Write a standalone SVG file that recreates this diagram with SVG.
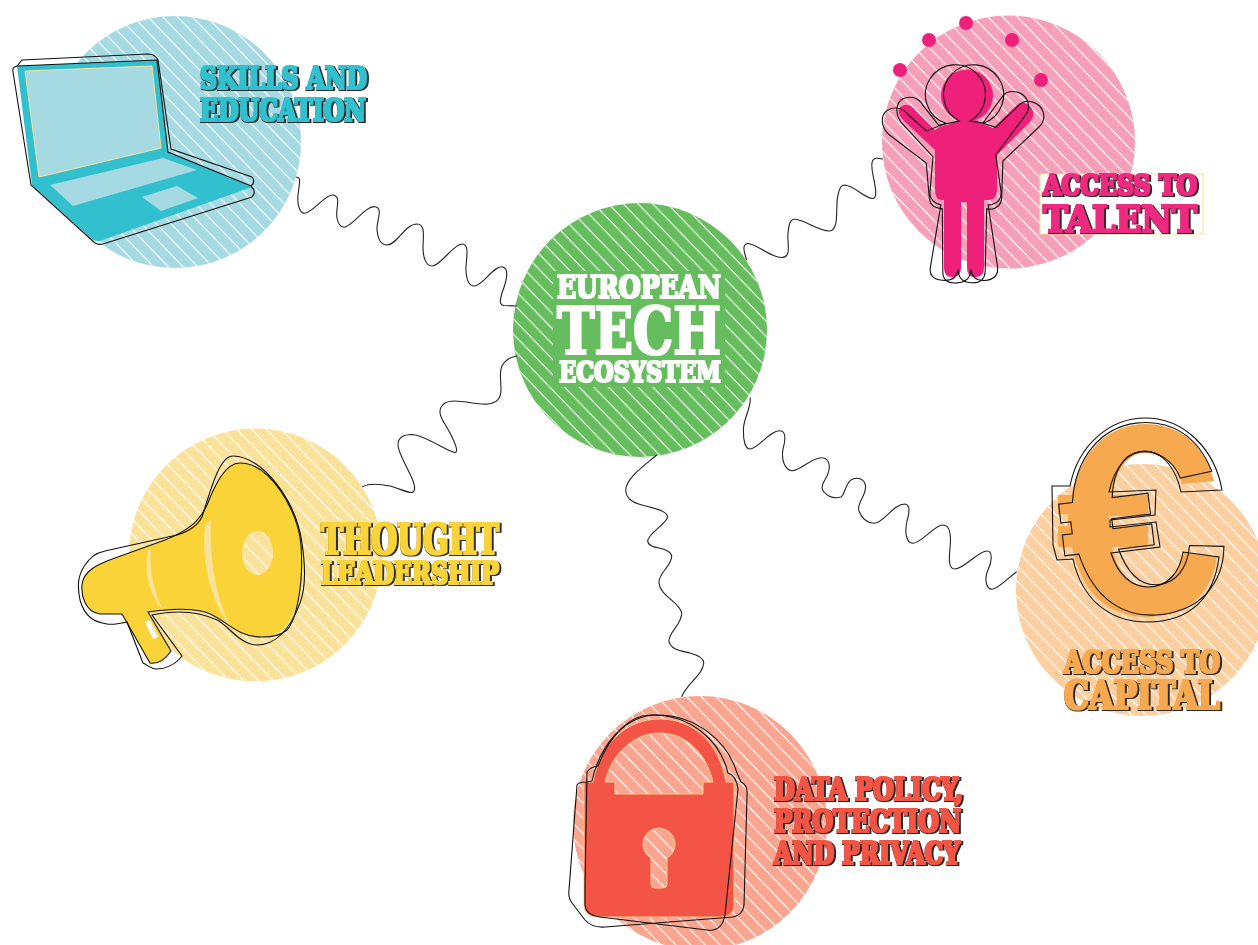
<svg xmlns="http://www.w3.org/2000/svg" width="1258" height="945" viewBox="0 0 1258 945">
<style>
text{font-family:"DejaVu Serif Condensed","DejaVu Serif","Liberation Serif",serif;font-weight:700}
.t{filter:url(#fat)}
.w{fill:#fff;filter:url(#fatw)}
.o{fill:none;stroke:#111;stroke-width:1.1}
.h{fill:url(#stripes)}
.teal{fill:#32c0cf}.pink{fill:#ef2079}.yel{fill:#f9d338}.ora{fill:#f7a950}.red{fill:#f35445}
</style>
<defs>
<pattern id="stripes" width="11" height="10.6" patternUnits="userSpaceOnUse" patternTransform="rotate(46)">
<rect width="11" height="1.2" fill="#fff" fill-opacity=".9"/>
</pattern>
<filter id="fat" x="-5%" y="-15%" width="110%" height="130%">
<feMorphology in="SourceAlpha" operator="dilate" radius="1.7 1.3" result="a"/>
<feOffset in="a" dx=".5" dy=".6" result="b"/>
<feFlood flood-color="#2a2a2a"/>
<feComposite in2="b" operator="in" result="dark"/>
<feMorphology in="SourceGraphic" operator="dilate" radius=".8 .5" result="fill"/>
<feMerge><feMergeNode in="dark"/><feMergeNode in="fill"/></feMerge>
</filter>
<filter id="fatw" x="-5%" y="-15%" width="110%" height="130%">
<feMorphology in="SourceGraphic" operator="dilate" radius="1 .7"/>
</filter>
<path id="person" d="M958,120A26,26 0 1 1 976,120L985,125L993,128L1017,105C1022,100 1032,104 1033,112C1034,116 1032,119 1030,122L997,155L997,190Q997,200 988,200L984,200L984,268Q984,277 975,277Q967,277 967,268L967,202L961,202L961,268Q961,277 952,277Q944,277 944,268L944,200L942,200Q935,200 935,190L935,150L903,120C897,113 898,108 902,106C908,103 912,106 916,111L935,130Q942,125 948,125Z"/>
<path id="personO" d="M953,122A30,30 0 1 1 977,122L990,125L1012,100C1018,93 1032,96 1036,106C1038,112 1036,118 1032,122L1000,158L1002,195Q1002,205 992,207L988,207L992,270Q992,282 978,282Q966,282 965,270Q964,282 950,282Q936,282 937,270L942,207Q930,205 930,195L930,160L895,128C888,120 888,108 896,104C905,100 912,104 916,110L933,128Z"/>
<path id="euro" d="M1214,481L1182,484C1177,465 1162,453 1145,453C1128,453 1116,470 1112,495L1148,495L1148,516L1109,516L1109,526L1148,526L1148,547L1112,547C1118,572 1130,587 1148,587C1165,587 1178,575 1183,552L1217,557C1212,595 1185,617 1147,617C1110,617 1082,595 1072,547L1058,547L1058,526L1068,526L1068,514L1058,514L1058,495L1072,495C1080,450 1110,424 1145,424C1180,424 1205,445 1214,481Z"/>
</defs>

<g id="skills">
<circle cx="175" cy="142" r="126" fill="#a5dae3"/><circle class="h" cx="175" cy="142" r="126"/>
<path class="teal" d="M17,66L157,60L168,152L252,187L100,241Q95,241 93,240L32,185Z"/>
<path fill="#a5dae3" stroke="#fbe29b" d="M25,71L152,66L161,148L39,177Z"/>
<path fill="#a5dae3" d="M50,185L163,158L197,170L73,206Z"/>
<path fill="#a5dae3" d="M142,197L177,186L198,198L161,211Z"/>
<path class="o" d="M17,66L22,60L148,54Q155,54 158,60L171,149L252,177Q256,182 251,186"/>
<path class="o" d="M17,66Q12,67 13,72L31,185L95,243Q98,245 103,244L252,197Q257,192 251,186L168,152L157,60L17,66Z"/>
<text class="t teal" x="200" y="89" font-size="31" textLength="167" lengthAdjust="spacingAndGlyphs">SKILLS AND</text>
<text class="t teal" x="200" y="121" font-size="32" textLength="166" lengthAdjust="spacingAndGlyphs">EDUCATION</text>
</g>

<g id="talent">
<circle cx="1008.5" cy="142" r="126.5" fill="#f5a0b8"/><circle class="h" cx="1008.5" cy="142" r="126.5"/>
<circle class="pink" cx="900" cy="70" r="7"/><circle class="pink" cx="929" cy="40" r="7"/><circle class="pink" cx="966" cy="23" r="7"/><circle class="pink" cx="1012" cy="40" r="7"/><circle class="pink" cx="1041" cy="80" r="7"/>
<use href="#person" class="pink"/>
<use href="#personO" class="o" transform="translate(-3,0) rotate(-5 965 170)"/>
<use href="#personO" class="o" transform="translate(2,0) rotate(5 965 170)"/>
<rect x="1040" y="174" width="163" height="60" fill="#fff" stroke="#fbe29b"/>
<text class="t" fill="#ee2c80" x="1043" y="195" font-size="28" textLength="154" lengthAdjust="spacingAndGlyphs">ACCESS TO</text>
<text class="t" fill="#ee2c80" x="1043" y="232" font-size="37" textLength="154" lengthAdjust="spacingAndGlyphs">TALENT</text>
</g>

<g id="center">
<circle cx="640" cy="330" r="127" fill="#66bd5e"/><circle class="h" cx="640" cy="330" r="127"/>
<rect x="553" y="271" width="172" height="116" fill="#66bd5e"/>
<text class="w" x="557" y="298" font-size="31" textLength="164" lengthAdjust="spacingAndGlyphs">EUROPEAN</text>
<text class="w" x="557" y="354" font-size="65" textLength="164" lengthAdjust="spacingAndGlyphs">TECH</text>
<text class="w" x="559" y="382" font-size="27" textLength="162" lengthAdjust="spacingAndGlyphs">ECOSYSTEM</text>
</g>

<g id="thought">
<circle cx="255.5" cy="555" r="126.5" fill="#fbe29b"/><circle class="h" cx="255.5" cy="555" r="126.5"/>
<path class="yel" fill-rule="evenodd" d="M240,463C275,463 302,510 302,560C302,605 290,637 262,637C235,637 225,618 205,612C185,607 165,610 148,612L171,651C165,660 157,664 150,663L122,614L100,614C85,612 81,595 82,585C83,572 95,565 115,558L165,540C190,530 200,520 207,505C215,485 225,463 240,463ZM242,553A15.5,22 0 1 0 273,553A15.5,22 0 1 0 242,553Z"/>
<path fill="#fbe29b" d="M205,525C201,565 212,605 233,630C218,605 209,565 211,520Z"/>
<path fill="#fbe29b" d="M148,550C144,575 150,595 163,610C154,592 149,570 151,549Z"/>
<path fill="#fff" d="M145,622L150,620L158,637L153,639Z"/>
<path class="o" d="M233,456C262,456 296,500 302,543C306,570 305,590 300,603C290,630 275,645 257,645C240,645 228,625 217,620C200,612 180,609 152,615L182,656C175,665 165,669 157,669C150,669 148,665 143,663L127,622C118,624 112,625 107,624C95,622 85,618 80,600C77,585 78,575 85,565C90,558 95,553 105,551L177,535C190,531 198,525 202,517C212,485 220,456 233,456Z"/>
<path class="o" d="M240,463C270,463 298,510 301,545C304,585 296,620 287,630C280,636 270,637 262,637C235,637 225,618 205,612C185,607 165,610 148,612L171,651C165,660 157,664 150,663L122,614L100,614C85,612 81,595 82,585C83,572 95,565 115,558L165,540C190,530 200,520 207,505C215,485 225,463 240,463Z"/>
<text class="t yel" x="321" y="554" font-size="43" textLength="178" lengthAdjust="spacingAndGlyphs">THOUGHT</text>
<text class="t yel" x="321" y="584" font-size="31" textLength="178" lengthAdjust="spacingAndGlyphs">LEADERSHIP</text>
</g>

<g id="capital">
<circle cx="1142" cy="590" r="126" fill="#fbcf9f"/><circle class="h" cx="1142" cy="590" r="126"/>
<use href="#euro" class="ora"/>
<use href="#euro" class="o" transform="translate(3,-1) rotate(-7 1140 520)"/>
<path class="o" d="M1222,490L1181,492C1176,468 1162,451 1145,451C1128,451 1114,468 1109,492L1156,490L1155,515L1110,520L1110,527L1156,522L1160,547L1111,553C1118,575 1132,587 1148,587C1168,587 1180,572 1183,552L1219,557C1214,598 1190,622 1147,622C1110,622 1082,600 1073,559L1057,560L1053,545L1052,486L1070,486C1078,445 1110,418 1145,418C1185,418 1215,450 1222,490Z"/>
<text class="t ora" x="1064" y="673" font-size="31" textLength="156" lengthAdjust="spacingAndGlyphs">ACCESS TO</text>
<text class="t ora" x="1064" y="709" font-size="40" textLength="156" lengthAdjust="spacingAndGlyphs">CAPITAL</text>
</g>

<g id="data">
<circle cx="700" cy="823" r="127" fill="#f9a58f"/><circle class="h" cx="700" cy="823" r="127"/>
<path class="red" fill-rule="evenodd" stroke="#fbd08a" d="M584,782L593,782C600,745 625,719 660,719C695,719 720,745 726,782L734,782L734,905Q734,917 720,917L598,917Q584,917 584,905ZM605,782C612,752 635,733 660,733C685,733 706,752 713,782L703,782L703,794L615,794L615,782ZM651,858A16,16 0 1 1 667,858L667,884Q667,888 663,888L655,888Q651,888 651,884Z"/>
<path class="o" d="M577,785Q578,782 587,782L592,781C600,745 625,715 657,715C695,715 727,740 737,773Q739,778 741,782Q748,785 747,795L744,905Q743,915 733,917L605,927Q592,928 585,920L572,903Q568,898 569,890Z"/>
<path class="o" d="M587,772Q590,767 598,766C610,735 630,715 650,715C690,714 720,740 728,773Q736,775 738,789L725,915Q722,932 707,930L600,917Q586,915 585,905L585,885L587,772Z"/>
<text class="t red" x="774" y="800" font-size="31" textLength="189" lengthAdjust="spacingAndGlyphs">DATA POLICY,</text>
<text class="t red" x="774" y="832" font-size="31" textLength="187" lengthAdjust="spacingAndGlyphs">PROTECTION</text>
<text class="t red" x="774" y="864" font-size="31" textLength="186" lengthAdjust="spacingAndGlyphs">AND PRIVACY</text>
</g>

<g id="connectors" fill="none" stroke="#222" stroke-width="1.1">
<path d="M296,177.3C302,176 299,185 298,195C297,205 300,213 304,213.3C312,214 325,194 333,195C342,196 335,210 337,218C338,224 341,227 344,227.3C352,227 366,205 375,206.7C384,208 376,222 377,230C378,240 382,245 387,245C397,245 405,224 417,224C426,224 423,238 423,247C423,258 426,266 432,266C441,266 453,244 462,244C471,244 465,262 466,272C467,282 470,286 474,286C483,286 493,266 502,266.7C511,268 505,285 502,293C500,300 499,305 504,305.5L517,306"/>
<path d="M746.7,260C744,252 742,245 747,243.5C755,242 770,258 782,257.5C792,257 787,243 788,233C789,224 790,219 795,219.3C805,220 820,232 830,231C840,229 835,205 838,195C840,187 841,185 845,185C855,186 865,199 873,198.5C878,198 875,185 873,175C871,165 871,158 877,158.3L883,159"/>
<path d="M362.3,486.7C370,483 380,484 390,486C398,488 408,493 412,492.5C417,491 414,482 410,474C405,463 398,452 398,445C398,437 405,434.5 412,434.5C425,435 448,452 455,452.5C459,452 455,443 450,433C445,423 439,417 440,411C441,403 447,401 455,401C465,401 478,405 488,404C497,403 501,398 501,390C501,380 499,372 502,366C505,360 510,357 517,356"/>
<path d="M750,397.3C752,405 744,418 743.5,428C743,440 745,449 750,449C758,449 770,430 780,430.7C787,431 785,442 783,449C781,460 785,470 792,470.7C800,471 812,457 822,457.7C830,458 831,468 827,476C823,483 820,488 824,492C828,497 835,499 841,497C846,494 845,478 857,478.3C866,479 867,487 864,494C861,501 857,506 859,511C862,519 868,523 874,523.3C884,523 893,504 905,504C911,505 909,514 907,521C905,530 905,543 913,543.3C922,543 934,525 943,525C951,525 951,538 950,548C949,558 948,569 955,569C964,569 978,551 987,551C993,551 992,562 988,570C984,578 986,589 992,589.3C998,589 1008,578 1016.7,571.7"/>
<path d="M656.7,455C645,465 626,478 625.7,490C626,500 635,503 642,505C652,508 666,510 667.5,516.5C668,523 648,533 647.7,541C648,550 670,546 671.7,556C672,566 658,573 659,583C660,596 680,602 681.7,613C682,625 668,632 669,641.7C671,650 682,651 690,653C697,655 704,658 703.7,663C703,675 687,683 681.7,696.7"/>
</g>
</svg>
